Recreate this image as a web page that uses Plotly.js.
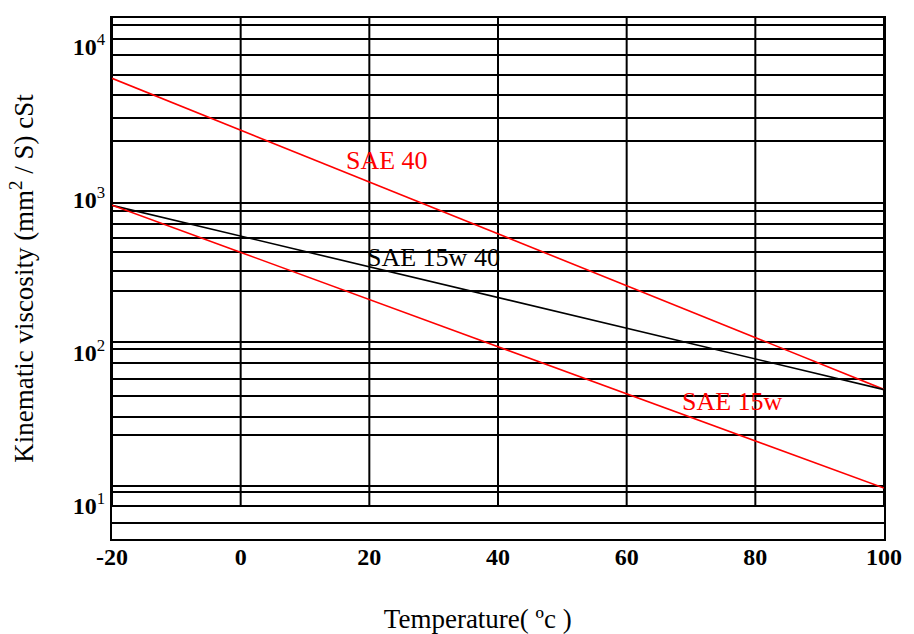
<!DOCTYPE html>
<html>
<head>
<meta charset="utf-8">
<script src="https://cdn.plot.ly/plotly-3.0.1.min.js"></script>
<style>html,body{margin:0;padding:0;background:#fff;}#chart{width:914px;height:634px;}</style>
</head>
<body>
<div id="chart"></div>
<script>
// Temperature (°C)
var temps = [-20, 100];
// Kinematic viscosity (cSt) at -20 °C and 100 °C
var sae40 = [6190, 57.4];
var sae15w40 = [915, 57.2];
var sae15w = [917, 13.0];

// x tick values / labels
var xTicks = [-20, 0, 20, 40, 60, 80, 100];
var xTickText = ['-20', '0', '20', '40', '60', '80', '100'];

// horizontal chart rulings (cSt)
var yGridVals = [13810, 11140, 8800, 6490, 4800, 3415, 2417,
                 952, 844, 694, 562, 456, 342.5, 253.5,
                 117.3, 106, 85.9, 67.5, 52.1, 38.15, 29.12,
                 13.47, 12.18, 9.87, 7.72];
// decade labels
var yLabelVals = [10, 100, 1000, 10000];
var yLabelExp = ['1', '2', '3', '4'];

var yRange = [0.7813, 4.1860];
var serif = 'Liberation Serif, Times New Roman, serif';

var yLabelText = yLabelExp.map(function (e) {
  return '10<sup><span style="font-weight:normal">' + e + '</span></sup>';
});

var traces = [
  {x: temps, y: sae40, mode: 'lines', line: {color: '#ff0000', width: 1.6}, name: 'SAE 40'},
  {x: temps, y: sae15w40, mode: 'lines', line: {color: '#000000', width: 1.6}, name: 'SAE 15w 40'},
  {x: temps, y: sae15w, mode: 'lines', line: {color: '#ff0000', width: 1.6}, name: 'SAE 15w'}
];

var shapes = xTicks.map(function (v) {
  return {type: 'line', xref: 'x', yref: 'paper', x0: v, x1: v, y0: 0.0625, y1: 1,
          line: {color: '#000', width: 2}, layer: 'below'};
});

var layout = {
  width: 914, height: 634,
  margin: {l: 112, r: 30, t: 18, b: 95},
  paper_bgcolor: '#fff', plot_bgcolor: '#fff',
  showlegend: false,
  font: {family: serif, color: '#000'},
  xaxis: {
    range: [-20, 100], tickmode: 'array', tickvals: xTicks, ticktext: xTickText,
    showgrid: false, zeroline: false, showline: true, mirror: true,
    linecolor: '#000', linewidth: 2, ticks: '', ticklabelstandoff: -5,
    tickfont: {family: serif, size: 24, color: '#000', weight: 'bold'},
    title: {text: 'Temperature( ºc )&nbsp;&nbsp;&nbsp;&nbsp;&nbsp;&nbsp;', font: {family: serif, size: 27, color: '#000'}, standoff: 40}
  },
  yaxis: {
    type: 'log', range: yRange, tickmode: 'array', tickvals: yLabelVals, ticktext: yLabelText,
    showgrid: false, zeroline: false, showline: true, mirror: true,
    linecolor: '#000', linewidth: 2, ticks: '',
    tickfont: {family: serif, size: 24, color: '#000', weight: 'bold'},
    minor: {tickmode: 'array', tickvals: yGridVals, showgrid: true, gridcolor: '#000', gridwidth: 2, ticks: ''},
    title: {text: 'Kinematic viscosity (mm<sup>2</sup> / S) cSt', font: {family: serif, size: 27, color: '#000'}, standoff: 31}
  },
  shapes: shapes,
  annotations: [
    {text: 'SAE 40', x: 22.8, y: 0.726, xref: 'x', yref: 'paper', xanchor: 'center', yanchor: 'middle', showarrow: false,
     font: {family: serif, size: 26, color: '#ff0000'}},
    {text: 'SAE 15w 40', x: 30, y: 0.541, xref: 'x', yref: 'paper', xanchor: 'center', yanchor: 'middle', showarrow: false,
     font: {family: serif, size: 26, color: '#000'}},
    {text: 'SAE 15w', x: 76.4, y: 0.263, xref: 'x', yref: 'paper', xanchor: 'center', yanchor: 'middle', showarrow: false,
     font: {family: serif, size: 26, color: '#ff0000'}}
  ]
};

Plotly.newPlot('chart', traces, layout, {displayModeBar: false, staticPlot: true});
</script>
</body>
</html>
